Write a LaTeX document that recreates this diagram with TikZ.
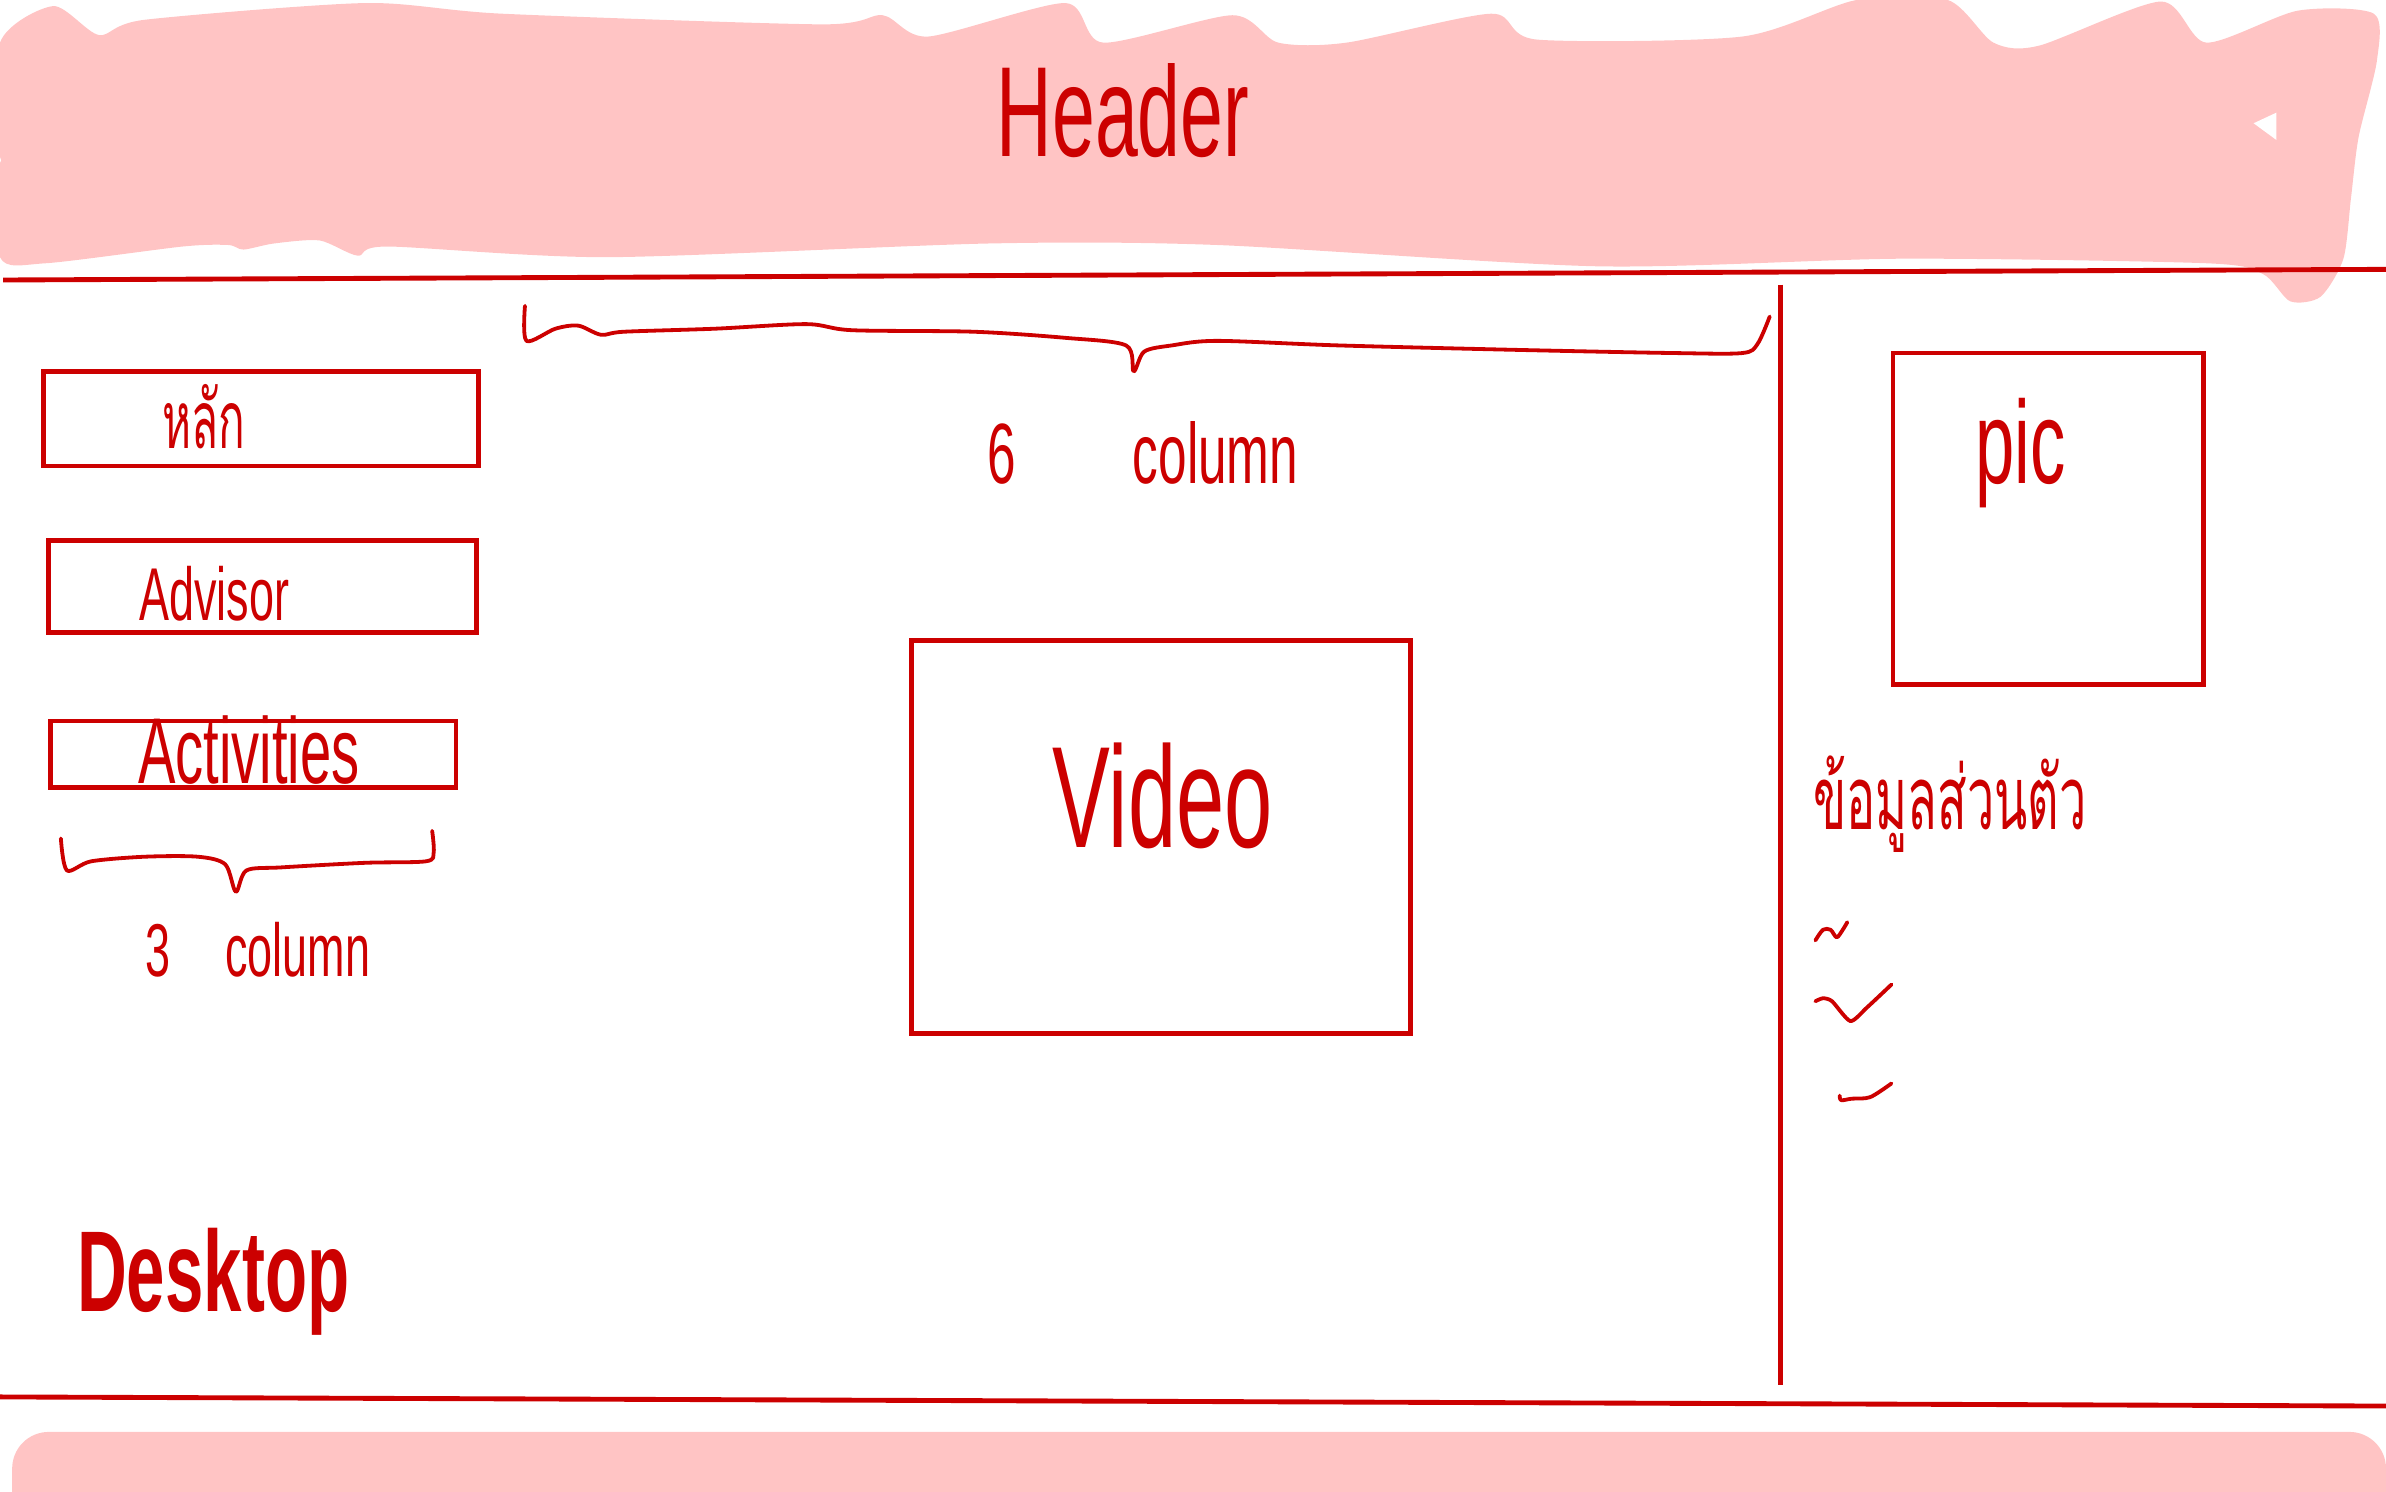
\documentclass[tikz,border=0pt]{standalone}
\usepackage{fontspec}
\newfontfamily\handfont[FakeStretch=0.6]{Liberation Sans}
\newfontfamily\thaifont[Script=Thai,FakeStretch=0.55]{Loma}
\definecolor{penred}{HTML}{CC0000}
\definecolor{markpink}{HTML}{FFC4C4}

\begin{document}
\begin{tikzpicture}[x=0.1mm,y=-0.1mm]
        \tikzstyle{box}=[rectangle,draw=penred,line width=0.3mm,inner sep=0pt]
        \tikzstyle{hand}=[text=penred,inner sep=0pt,anchor=base west]
        \tikzstyle{rule}=[draw=penred,line width=0.32mm]
        \tikzstyle{pen}=[draw=penred,line width=0.25mm,line cap=round,line join=round]
       \useasboundingbox (0,0) rectangle (1568,980);

       % header and footer marks
       \fill[markpink] plot[smooth cycle,tension=0.45] coordinates {
         (0,28) (35,4) (65,23) (95,13) (240,2) (330,9) (540,16) (580,10) (610,24)
         (700,2) (725,28) (810,10) (840,28) (885,28) (980,9) (1010,26) (1145,24)
         (1220,0) (1280,0) (1310,28) (1340,30) (1420,1) (1450,28) (1510,7) (1560,9)
         (1562,40) (1550,90) (1545,130) (1540,170) (1525,195) (1505,198) (1487,180)
         (1450,173) (1250,170) (1050,175) (800,161) (650,160) (400,169) (255,162)
         (235,168) (210,158) (180,160) (160,164) (150,161) (120,162) (30,173)
         (0,169) (0,107) (15,105) (0,103)};
       \fill[white] (1481,81) -- (1496,74) -- (1496,92) -- cycle;
       \fill[markpink,rounded corners=2.4mm] (8,941) rectangle (1568,1010);

       \draw[rule] (2,184) -- (1568,177);
       \draw[rule] (0,918) -- (1568,924);
       \draw[rule] (1170,187) -- (1170,910);

       \node [hand,anchor=base,font={\handfont\fontsize{24pt}{28pt}\selectfont}] (header) at (738,103) {Header};

       % left column
       \node [box,minimum width=28.6mm,minimum height=6.2mm] (main) at (171.4,275.2) {};
       \node [box,minimum width=28.15mm,minimum height=6.05mm] (advisor) at (172.5,385.5) {};
       \node [box,minimum width=26.64mm,minimum height=4.36mm] (activities) at (166.5,495.6) {};
       \node [hand,font={\thaifont\fontsize{15pt}{18pt}\selectfont}] (mainlbl) at (106,295) {หลัก};
       \node [hand,font={\handfont\fontsize{14pt}{17pt}\selectfont}] (advisorlbl) at (91,408) {Advisor};
       \node [hand,font={\handfont\fontsize{17.5pt}{20pt}\selectfont}] (activitieslbl) at (90,515) {Activities};
       \draw[pen] plot[smooth,tension=0.5] coordinates {(40,551) (44,572) (60,566) (95,563) (130,563)
         (148,568) (155,586) (162,572) (185,570) (240,567) (280,566) (285,560) (284,546)};
       \node [hand,font={\handfont\fontsize{14pt}{17pt}\selectfont}] (leftcols) at (95,642) {3\hspace{3.6mm}column};
       \node [hand,font={\handfont\bfseries\fontsize{21.5pt}{25pt}\selectfont}] (desktop) at (50,862) {Desktop};

       % middle column
       \draw[pen] plot[smooth,tension=0.5] coordinates {(345,201) (346,224) (365,216) (380,214) (395,220)
         (410,218) (470,216) (530,213) (560,217) (640,218) (700,222) (740,227) (745,244)
         (752,231) (770,227) (800,224) (880,227) (1000,230) (1100,232) (1145,232) (1155,226) (1163,208)};
       \node [hand,font={\handfont\fontsize{16pt}{19pt}\selectfont}] (midcols) at (648,318) {6\hspace{7.7mm}column};
       \node [box,minimum width=32.8mm,minimum height=25.8mm] (video) at (763,550) {};
       \node [hand,anchor=base,font={\handfont\fontsize{27pt}{32pt}\selectfont}] (videolbl) at (764,557) {Video};

       % right column
       \node [box,minimum width=20.4mm,minimum height=21.8mm] (pic) at (1346,341) {};
       \node [hand,anchor=base,font={\handfont\fontsize{22pt}{26pt}\selectfont}] (piclbl) at (1328,318) {pic};
       \node [hand,font={\thaifont\fontsize{16.5pt}{20pt}\selectfont}] (infolbl) at (1191,545) {ข้อมูลส่วนตัว};
       \draw[pen] plot[smooth,tension=0.5] coordinates {(1193,618) (1198,611) (1203,611) (1207,616) (1211,611) (1214,606)};
       \draw[pen] plot[smooth,tension=0.4] coordinates {(1193,658) (1198,656) (1204,658) (1216,671) (1227,662) (1243,647)};
       \draw[pen] plot[smooth,tension=0.5] coordinates {(1209,720) (1210,723) (1217,722) (1229,721) (1243,712)};
\end{tikzpicture}
\end{document}
